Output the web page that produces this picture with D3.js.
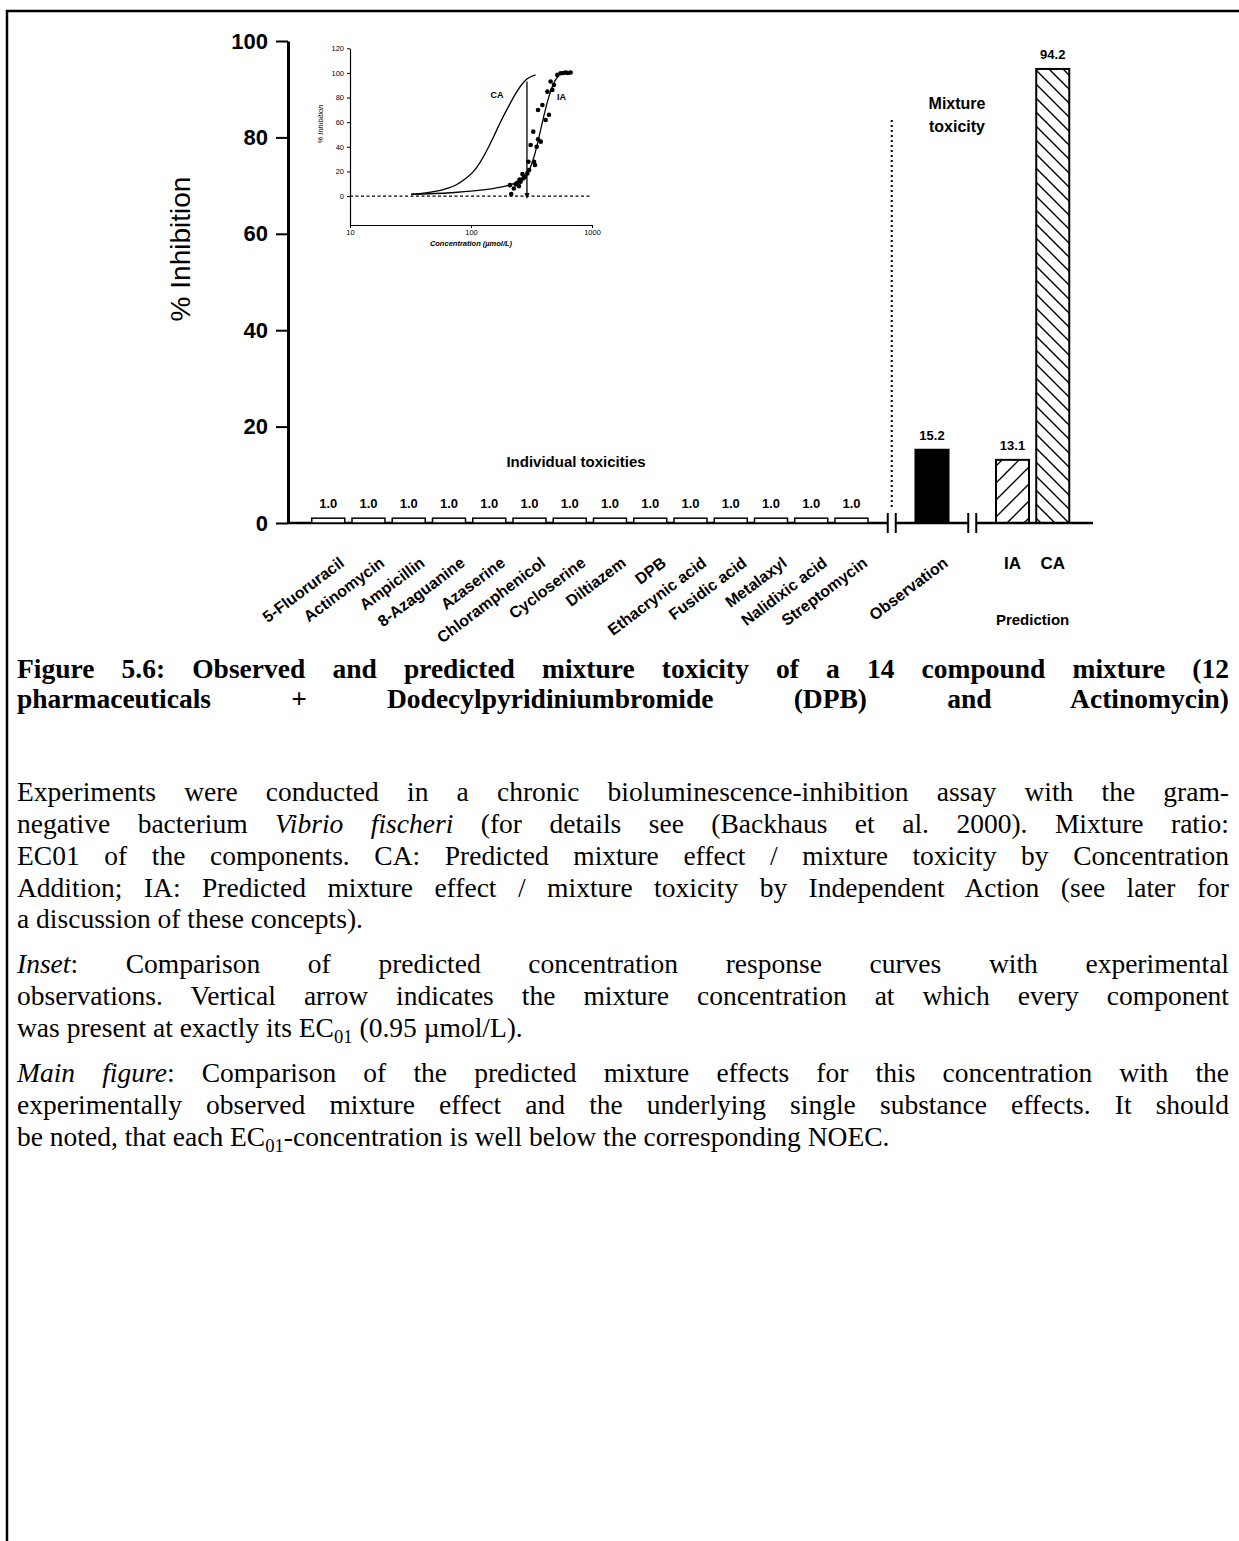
<!DOCTYPE html>
<html>
<head>
<meta charset="utf-8">
<script src="https://cdn.jsdelivr.net/npm/d3@7"></script>
<style>
  body { margin: 0; background: #fff; }
  #page { position: relative; width: 1239px; height: 1541px; overflow: hidden; background: #fff; }
  svg { position: absolute; left: 0; top: 0; }
  .cap { position: absolute; left: 17px; width: 1212px; font-family: "Liberation Serif", "Times New Roman", serif;
         font-size: 27.5px; line-height: 32px; color: #000; }
  .just { text-align: justify; text-align-last: justify; }
  .bold { font-weight: bold; }
  sub { font-size: 0.68em; vertical-align: baseline; position: relative; top: 0.3em; }
</style>
</head>
<body>
<div id="page"></div>
<script>
// ---- data ----
var compounds = ["5-Fluoruracil", "Actinomycin", "Ampicillin", "8-Azaguanine", "Azaserine",
  "Chloramphenicol", "Cycloserine", "Diltiazem", "DPB", "Ethacrynic acid", "Fusidic acid",
  "Metalaxyl", "Nalidixic acid", "Streptomycin"];
var compoundValues = [1.0, 1.0, 1.0, 1.0, 1.0, 1.0, 1.0, 1.0, 1.0, 1.0, 1.0, 1.0, 1.0, 1.0];
var mixtureNames = ["Observation", "IA", "CA"];
var mixtureValues = [15.2, 13.1, 94.2];
var yTicks = [0, 20, 40, 60, 80, 100];

// inset: concentration (umol/L) vs % inhibition
var insetYTicks = [0, 20, 40, 60, 80, 100, 120];
var insetXTicks = [10, 100, 1000];
var caConc = [32, 45, 60, 75, 90, 105, 120, 140, 155, 175, 200, 230, 260, 290, 320, 342];
var caInh = [1.5, 3, 5.5, 9, 14, 20, 28, 40, 49, 60, 71, 82, 90, 95, 97.5, 98.5];
var iaConc = [32, 68, 136, 200, 257, 284, 311, 332, 365, 402, 441, 485, 533];
var iaInh = [1.4, 2.7, 5.4, 8.4, 12.5, 15.7, 23.8, 32, 48, 66, 81, 92, 98];
var obsConc = [215, 226, 210, 234, 249, 241, 257, 271, 252, 278, 266, 292, 302, 298, 311, 338,
  332, 327, 349, 358, 377, 358, 389, 414, 428, 441, 455, 470, 485, 517, 551, 580, 606, 630, 666];
var obsInh = [1.6, 6.2, 8.9, 9.5, 8.1, 10.8, 11.7, 14.4, 13.5, 15.7, 17.9, 18.4, 21.1, 27.9, 41.5, 25.2,
  27.9, 52.3, 40.1, 46.1, 44.2, 69.9, 74, 61.8, 84.8, 66, 93, 86.2, 90.2, 98.4, 99.7, 100, 100.3, 100, 100.3];
var arrowConc = 290, arrowTop = 93;

var W = 1239, H = 1541;
var sans = "'Liberation Sans', Arial, sans-serif";

var svg = d3.select("#page").append("svg").attr("width", W).attr("height", H);

// page frame (top + left rule)
svg.append("path").attr("d", "M7," + H + "V11H" + W)
  .attr("fill", "none").attr("stroke", "#000").attr("stroke-width", 2.5);

// hatch patterns
var defs = svg.append("defs");
defs.append("pattern").attr("id", "hatchIA").attr("patternUnits", "userSpaceOnUse")
  .attr("width", 17).attr("height", 17)
  .append("path").attr("d", "M0,17L17,0M-4,4L4,-4M13,21L21,13")
  .attr("stroke", "#000").attr("stroke-width", 1.4);
defs.append("pattern").attr("id", "hatchCA").attr("patternUnits", "userSpaceOnUse")
  .attr("width", 14).attr("height", 14)
  .append("path").attr("d", "M0,0L14,14M-4,10L4,18M10,-4L18,4")
  .attr("stroke", "#000").attr("stroke-width", 1.4);

// ---- main chart ----
var slots = compounds.concat(["gap1", "Observation", "gap2", "IA", "CA"]);
var x = d3.scaleBand().domain(slots).range([288, 1093]).paddingInner(0.18).paddingOuter(0.59);
var y = d3.scaleLinear().domain([0, 100]).range([523, 41]);
var y0 = y(0);

var bars = compounds.map(function (d, i) { return { name: d, value: compoundValues[i], kind: "single" }; })
  .concat(mixtureNames.map(function (d, i) { return { name: d, value: mixtureValues[i], kind: d }; }));

var g = svg.append("g");

var yAxis = g.append("g").attr("transform", "translate(288,0)")
  .call(d3.axisLeft(y).tickValues(yTicks).tickSize(12).tickSizeOuter(0).tickPadding(8));
yAxis.select(".domain").attr("stroke-width", 3);
yAxis.selectAll(".tick line").attr("stroke-width", 2);
yAxis.selectAll("text").attr("font-family", sans).attr("font-size", 22).attr("font-weight", "bold")
  .attr("fill", "#000");

g.append("text")
  .attr("transform", "translate(190,249) rotate(-90)")
  .attr("text-anchor", "middle")
  .attr("font-family", sans).attr("font-size", 28)
  .text("% Inhibition");

// baseline
g.append("line").attr("x1", 288).attr("x2", 1093).attr("y1", y0).attr("y2", y0)
  .attr("stroke", "#000").attr("stroke-width", 2.5);

// bars
g.selectAll("rect.bar").data(bars).enter().append("rect")
  .attr("class", "bar")
  .attr("x", function (d) { return x(d.name); })
  .attr("y", function (d) { return y(d.value); })
  .attr("width", x.bandwidth())
  .attr("height", function (d) { return y0 - y(d.value); })
  .attr("fill", function (d) {
    if (d.kind == "single") return "#fff";
    if (d.kind == "Observation") return "#000";
    return d.kind == "IA" ? "url(#hatchIA)" : "url(#hatchCA)";
  })
  .attr("stroke", "#000")
  .attr("stroke-width", function (d) { return d.kind == "single" ? 1.5 : 2; });

// value labels
g.selectAll("text.val").data(bars).enter().append("text")
  .attr("class", "val")
  .attr("x", function (d) { return x(d.name) + x.bandwidth() / 2; })
  .attr("y", function (d) { return y(d.value) - 10; })
  .attr("text-anchor", "middle")
  .attr("font-family", sans).attr("font-size", 13).attr("font-weight", "bold")
  .text(function (d) { return d.value.toFixed(1); });

// axis breaks
["gap1", "gap2"].forEach(function (k) {
  var cx = x(k) + x.bandwidth() / 2;
  g.append("rect").attr("x", cx - 4).attr("y", y0 - 3).attr("width", 8).attr("height", 6).attr("fill", "#fff");
  [-4, 4].forEach(function (o) {
    g.append("line").attr("x1", cx + o).attr("x2", cx + o).attr("y1", y0 - 10).attr("y2", y0 + 10)
      .attr("stroke", "#000").attr("stroke-width", 2);
  });
});

// dotted separator
var sepX = x("gap1") + x.bandwidth() / 2;
g.append("line").attr("x1", sepX).attr("x2", sepX).attr("y1", y(83.6)).attr("y2", y(2.7))
  .attr("stroke", "#000").attr("stroke-width", 2).attr("stroke-dasharray", "2,3");

// category labels
g.selectAll("text.cat").data(compounds.concat(["Observation"])).enter().append("text")
  .attr("class", "cat")
  .attr("transform", function (d) {
    return "translate(" + (x(d) + x.bandwidth() / 2 + 17) + "," + (y0 + 42) + ") rotate(-37)";
  })
  .attr("text-anchor", "end")
  .attr("font-family", sans).attr("font-size", 16).attr("font-weight", "bold")
  .text(function (d) { return d; });

["IA", "CA"].forEach(function (k) {
  g.append("text").attr("x", x(k) + x.bandwidth() / 2).attr("y", y0 + 46)
    .attr("text-anchor", "middle").attr("font-family", sans).attr("font-size", 17).attr("font-weight", "bold")
    .text(k);
});
g.append("text").attr("x", (x("IA") + x("CA") + x.bandwidth()) / 2).attr("y", y0 + 102)
  .attr("text-anchor", "middle").attr("font-family", sans).attr("font-size", 15).attr("font-weight", "bold")
  .text("Prediction");

g.append("text").attr("x", 576).attr("y", 467)
  .attr("text-anchor", "middle").attr("font-family", sans).attr("font-size", 15).attr("font-weight", "bold")
  .text("Individual toxicities");
var mt = g.append("text").attr("text-anchor", "middle").attr("font-family", sans)
  .attr("font-size", 16).attr("font-weight", "bold");
mt.append("tspan").attr("x", 957).attr("y", 109).text("Mixture");
mt.append("tspan").attr("x", 957).attr("y", 132).text("toxicity");

// ---- inset ----
var ix = d3.scaleLog().domain([10, 1000]).range([350, 592]);
var iy = d3.scaleLinear().domain([-23.5, 120]).range([225, 48.3]);
var gi = svg.append("g");

var iyAxis = gi.append("g").attr("transform", "translate(350,0)")
  .call(d3.axisLeft(iy).tickValues(insetYTicks).tickSize(3).tickSizeOuter(0).tickPadding(3));
var ixAxis = gi.append("g").attr("transform", "translate(0,225)")
  .call(d3.axisBottom(ix).tickValues(insetXTicks).tickFormat(d3.format("d")).tickSize(3).tickSizeOuter(0).tickPadding(2));
gi.selectAll(".domain").attr("stroke-width", 1.2);
gi.selectAll(".tick text").attr("font-family", sans).attr("font-size", 7.5).attr("fill", "#000");

gi.append("text").attr("transform", "translate(323,124) rotate(-90)")
  .attr("text-anchor", "middle").attr("font-family", sans).attr("font-size", 7.5).attr("font-style", "italic")
  .text("% Inhibition");
gi.append("text").attr("x", 471).attr("y", 246)
  .attr("text-anchor", "middle").attr("font-family", sans).attr("font-size", 7.5)
  .attr("font-style", "italic").attr("font-weight", "bold")
  .text("Concentration (\u00b5mol/L)");

// zero line
gi.append("line").attr("x1", ix(10)).attr("x2", ix(1000)).attr("y1", iy(0)).attr("y2", iy(0))
  .attr("stroke", "#000").attr("stroke-width", 1.2).attr("stroke-dasharray", "3,2.5");

var line = d3.line().x(function (d) { return ix(d[0]); }).y(function (d) { return iy(d[1]); })
  .curve(d3.curveMonotoneX);
gi.append("path").datum(d3.zip(caConc, caInh)).attr("d", line)
  .attr("fill", "none").attr("stroke", "#000").attr("stroke-width", 1.3);
gi.append("path").datum(d3.zip(iaConc, iaInh)).attr("d", line)
  .attr("fill", "none").attr("stroke", "#000").attr("stroke-width", 1.3);

gi.selectAll("circle").data(d3.zip(obsConc, obsInh)).enter().append("circle")
  .attr("cx", function (d) { return ix(d[0]); })
  .attr("cy", function (d) { return iy(d[1]); })
  .attr("r", 2.3).attr("fill", "#000");

// arrow
var ax = ix(arrowConc);
gi.append("line").attr("x1", ax).attr("x2", ax).attr("y1", iy(arrowTop)).attr("y2", iy(0))
  .attr("stroke", "#000").attr("stroke-width", 1.3);
gi.append("path").attr("d", "M" + (ax - 2.5) + "," + (iy(0) - 3) + "L" + ax + "," + (iy(0) + 3) + "L" + (ax + 2.5) + "," + (iy(0) - 3) + "Z")
  .attr("fill", "#000");

gi.append("text").attr("x", ix(164)).attr("y", iy(80)).attr("text-anchor", "middle")
  .attr("font-family", sans).attr("font-size", 9).attr("font-weight", "bold").text("CA");
gi.append("text").attr("x", ix(560)).attr("y", iy(78)).attr("text-anchor", "middle")
  .attr("font-family", sans).attr("font-size", 9).attr("font-weight", "bold").text("IA");

// ---- caption ----
var captionLines = [
  { top: 653, cls: "cap bold just", html: "Figure 5.6: Observed and predicted mixture toxicity of a 14 compound mixture (12" },
  { top: 683, cls: "cap bold just", html: "pharmaceuticals + Dodecylpyridiniumbromide (DPB) and Actinomycin)" },
  { top: 776, cls: "cap just", html: "Experiments were conducted in a chronic bioluminescence-inhibition assay with the gram-" },
  { top: 808, cls: "cap just", html: "negative bacterium <i>Vibrio fischeri</i> (for details see (Backhaus et al. 2000). Mixture ratio:" },
  { top: 840, cls: "cap just", html: "EC01 of the components. CA: Predicted mixture effect / mixture toxicity by Concentration" },
  { top: 872, cls: "cap just", html: "Addition; IA: Predicted mixture effect / mixture toxicity by Independent Action (see later for" },
  { top: 903, cls: "cap", html: "a discussion of these concepts)." },
  { top: 948, cls: "cap just", html: "<i>Inset</i>: Comparison of predicted concentration response curves with experimental" },
  { top: 980, cls: "cap just", html: "observations. Vertical arrow indicates the mixture concentration at which every component" },
  { top: 1012, cls: "cap", html: "was present at exactly its EC<sub>01</sub> (0.95 \u00b5mol/L)." },
  { top: 1057, cls: "cap just", html: "<i>Main figure</i>: Comparison of the predicted mixture effects for this concentration with the" },
  { top: 1089, cls: "cap just", html: "experimentally observed mixture effect and the underlying single substance effects. It should" },
  { top: 1121, cls: "cap", html: "be noted, that each EC<sub>01</sub>-concentration is well below the corresponding NOEC." }
];
d3.select("#page").selectAll("div.cap").data(captionLines).enter().append("div")
  .attr("class", function (d) { return d.cls; })
  .style("top", function (d) { return d.top + "px"; })
  .html(function (d) { return d.html; });
</script>
</body>
</html>
